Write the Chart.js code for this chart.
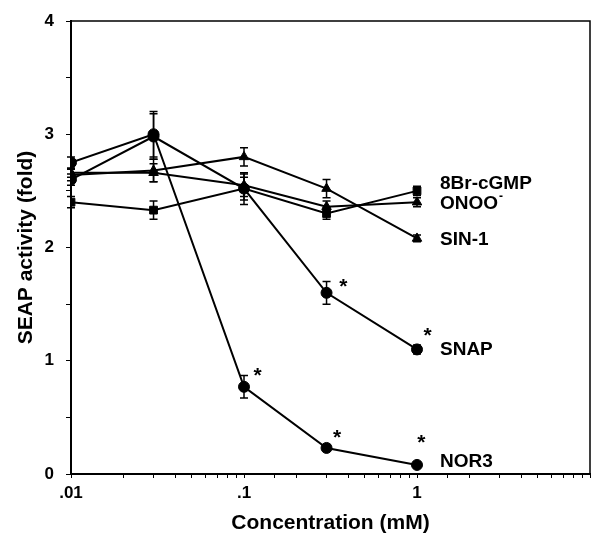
<!DOCTYPE html>
<html>
<head>
<meta charset="utf-8">
<script src="https://cdn.jsdelivr.net/npm/chart.js@4"></script>
<style>
  html, body { margin: 0; padding: 0; background: #fff; }
  #wrap { width: 591px; height: 542px; }
</style>
</head>
<body>
<div id="wrap"><canvas id="seapChart" width="591" height="542"></canvas></div>
<script>
// concentrations (mM)
const conc = [0.01, 0.03, 0.1, 0.3, 1];

// SEAP activity (fold) per treatment, with error bars
const nor3 = [2.75, 3.00, 0.77, 0.23, 0.08];
const nor3Err = [0.05, 0.20, 0.10, 0.03, 0.02];
const snap = [2.60, 2.98, 2.52, 1.60, 1.10];
const snapErr = [0.05, 0.20, 0.10, 0.10, 0.04];
const sin1 = [2.64, 2.68, 2.80, 2.52, 2.08];
const sin1Err = [0.05, 0.10, 0.08, 0.08, 0.03];
const onoo = [2.66, 2.66, 2.55, 2.36, 2.40];
const onooErr = [0.04, 0.08, 0.10, 0.05, 0.04];
const br = [2.40, 2.33, 2.52, 2.30, 2.50];
const brErr = [0.05, 0.08, 0.14, 0.05, 0.04];

// names written at the right end of each curve, and the level they sit at
const seriesNames = ['8Br-cGMP', 'ONOO', 'SIN-1', 'SNAP', 'NOR3'];
const nameLevels = [2.56, 2.39, 2.07, 1.10, 0.11];

// significance asterisks (x in mM, y in fold)
const starX = [0.375, 1.15, 0.12, 0.345, 1.06];
const starY = [1.69, 1.26, 0.91, 0.36, 0.32];

const xLabels = { '-2': '.01', '-1': '.1', '0': '1' };

const FONT = 'Liberation Sans, Arial, sans-serif';

function series(label, values, errs, style) {
  return {
    label: label,
    data: conc.map((c, i) => ({ x: c, y: values[i] })),
    errors: errs,
    borderColor: '#000',
    backgroundColor: '#000',
    borderWidth: 2,
    pointStyle: style,
    pointRadius: 5.5,
    pointBackgroundColor: '#000',
    pointBorderColor: '#000',
    pointBorderWidth: 1,
    tension: 0
  };
}

// error bars drawn under the markers
const errorBars = {
  id: 'errorBars',
  beforeDatasetsDraw(chart) {
    const ctx = chart.ctx;
    const y = chart.scales.y;
    ctx.save();
    ctx.strokeStyle = '#000';
    ctx.lineWidth = 1.5;
    chart.data.datasets.forEach((ds, i) => {
      const meta = chart.getDatasetMeta(i);
      meta.data.forEach((pt, j) => {
        const v = ds.data[j].y;
        const e = ds.errors[j];
        const top = y.getPixelForValue(v + e);
        const bot = y.getPixelForValue(v - e);
        ctx.beginPath();
        ctx.moveTo(pt.x, top);
        ctx.lineTo(pt.x, bot);
        ctx.moveTo(pt.x - 4, top);
        ctx.lineTo(pt.x + 4, top);
        ctx.moveTo(pt.x - 4, bot);
        ctx.lineTo(pt.x + 4, bot);
        ctx.stroke();
      });
    });
    ctx.restore();
  }
};

// box, series names and asterisks
const extras = {
  id: 'extras',
  afterDraw(chart) {
    const ctx = chart.ctx;
    const a = chart.chartArea;
    const x = chart.scales.x;
    const y = chart.scales.y;
    ctx.save();
    ctx.strokeStyle = '#000';
    ctx.lineWidth = 1.5;
    ctx.beginPath();
    ctx.moveTo(a.left, a.top);
    ctx.lineTo(a.right, a.top);
    ctx.lineTo(a.right, a.bottom);
    ctx.stroke();

    ctx.fillStyle = '#000';
    ctx.font = 'bold 19px ' + FONT;
    ctx.textBaseline = 'middle';
    ctx.textAlign = 'left';
    const lx = x.getPixelForValue(conc[conc.length - 1]) + 23;
    seriesNames.forEach((name, i) => {
      const ly = y.getPixelForValue(nameLevels[i]);
      ctx.fillText(name, lx, ly);
      if (name === 'ONOO') {
        const w = ctx.measureText(name).width;
        ctx.font = 'bold 12px ' + FONT;
        ctx.fillText('-', lx + w + 1, ly - 7);
        ctx.font = 'bold 19px ' + FONT;
      }
    });

    ctx.font = 'bold 21px ' + FONT;
    ctx.textAlign = 'center';
    starX.forEach((sx, i) => {
      ctx.fillText('*', x.getPixelForValue(sx), y.getPixelForValue(starY[i]) + 5);
    });
    ctx.restore();
  }
};

new Chart(document.getElementById('seapChart').getContext('2d'), {
  type: 'line',
  data: {
    datasets: [
      series('8Br-cGMP', br, brErr, 'rect'),
      series('ONOO-', onoo, onooErr, 'triangle'),
      series('SIN-1', sin1, sin1Err, 'triangle'),
      series('SNAP', snap, snapErr, 'circle'),
      series('NOR3', nor3, nor3Err, 'circle')
    ]
  },
  options: {
    responsive: false,
    animation: false,
    layout: { autoPadding: false, padding: { top: 21, right: 1, left: 0, bottom: 6 } },
    plugins: {
      legend: { display: false },
      tooltip: { enabled: false }
    },
    scales: {
      x: {
        type: 'logarithmic',
        min: 0.01,
        max: 10,
        afterFit: s => { s.height = 62; s.paddingRight = 0; s.paddingLeft = 0; },
        ticks: {
          autoSkip: false,
          maxRotation: 0,
          color: '#000',
          padding: 5,
          font: { family: FONT, size: 17, weight: 'bold' },
          callback: v => {
            const l = Math.log10(v);
            const r = Math.round(l);
            return Math.abs(l - r) < 1e-6 && xLabels[r] ? xLabels[r] : '';
          }
        },
        grid: { drawOnChartArea: false, drawTicks: true, tickLength: 4, color: '#000', lineWidth: 1 },
        border: { color: '#000', width: 2 },
        title: {
          display: true,
          text: 'Concentration (mM)',
          color: '#000',
          font: { family: FONT, size: 21, weight: 'bold' },
          padding: { top: 0, bottom: 0 }
        }
      },
      y: {
        min: 0,
        max: 4,
        afterFit: s => { s.width = 71; s.paddingTop = 0; s.paddingBottom = 0; },
        ticks: {
          stepSize: 0.5,
          color: '#000',
          padding: 12,
          font: { family: FONT, size: 17, weight: 'bold' },
          callback: v => Number.isInteger(v) ? String(v) : ''
        },
        grid: { drawOnChartArea: false, drawTicks: true, tickLength: 5, color: '#000', lineWidth: 1 },
        border: { color: '#000', width: 2 },
        title: {
          display: true,
          text: 'SEAP activity (fold)',
          color: '#000',
          font: { family: FONT, size: 21, weight: 'bold' },
          padding: { top: 14, bottom: 0 }
        }
      }
    }
  },
  plugins: [errorBars, extras]
});
</script>
</body>
</html>
